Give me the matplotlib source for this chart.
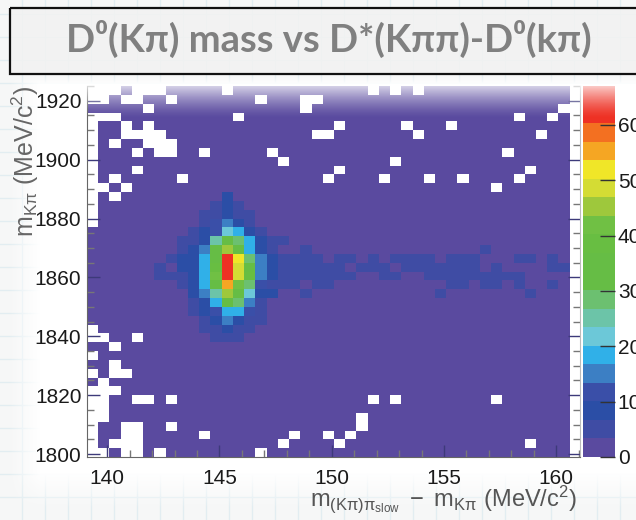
import numpy as np
import matplotlib
matplotlib.use('Agg')
from matplotlib import pyplot as plt
from matplotlib.colors import ListedColormap, BoundaryNorm
from matplotlib.patches import Rectangle
from matplotlib.ticker import MultipleLocator

plt.rcParams['font.family'] = ['Liberation Sans', 'DejaVu Sans']
plt.rcParams['mathtext.fontset'] = 'custom'
plt.rcParams['mathtext.rm'] = 'Liberation Sans'
plt.rcParams['mathtext.it'] = 'Liberation Sans'
plt.rcParams['mathtext.bf'] = 'Liberation Sans:bold'

W, H = 636, 520

title = 'D\u2070(K\u03c0) mass vs D*(K\u03c0\u03c0)-D\u2070(k\u03c0)'
x_ticks = [140, 145, 150, 155, 160]
y_ticks = [1800, 1820, 1840, 1860, 1880, 1900, 1920]
z_ticks = [0, 10, 20, 30, 40, 50, 60]

# histogram binning
x_start, x_bin, n_cols = 139.1, 0.5, 43
y_start, y_bin, n_rows = 1799, 3, 42
band_width = 3.35

band_colors = ['#5a4a9f', '#3f4ca4', '#2b4ea6', '#3a4fa8', '#3c7fc4',
               '#30b0e8', '#6cc8d8', '#6cc4a8', '#6cc070', '#66bd45',
               '#66bd45', '#68be42', '#70c044', '#9ec83c', '#d4dc34',
               '#f0e628', '#f5a623', '#f37021', '#ee3124', '#ee3124']

# row (from the bottom): columns with no entries
empty_cells = {
    41: [0, 1, 2, 4, 5, 6, 12, 25, 27, 29],
    40: [0, 1, 3, 4, 7, 15, 19, 20],
    39: [5, 19, 42],
    38: [0, 1, 2, 13, 38, 41],
    37: [0, 3, 5, 22, 28, 32],
    36: [0, 3, 4, 5, 6, 20, 21, 29, 40],
    35: [0, 2, 5, 6, 7],
    34: [0, 4, 6, 7, 10, 16, 37],
    33: [0, 17, 27],
    32: [0, 4, 22, 39],
    31: [0, 2, 8, 21, 26, 30, 33, 38],
    30: [0, 1, 3, 36],
    29: [0, 2],
    28: [0],
    27: [0],
    26: [0],
    14: [0],
    13: [0, 1, 4],
    12: [2],
    11: [0],
    10: [2],
    9: [0, 2, 3],
    8: [1],
    7: [0, 1, 2],
    6: [0, 1, 4, 5, 7, 25, 27, 36],
    5: [0, 1],
    4: [0, 1, 24],
    3: [0, 3, 4, 7, 24],
    2: [0, 3, 4, 10, 18, 21, 23],
    1: [0, 2, 3, 4, 17, 22, 39],
    0: [0, 1, 3, 4, 6, 15],
}

# row: (first column, colour bands of the signal peak)
peak_rows = {
    29: (12, [2]),
    28: (11, [1, 2, 1]),
    27: (10, [1, 1, 2, 1, 1]),
    26: (10, [1, 3, 4, 2, 1]),
    25: (9, [1, 2, 3, 6, 5, 2, 1]),
    24: (8, [1, 1, 2, 7, 10, 8, 5, 2, 1, 1]),
    23: (8, [1, 2, 4, 10, 13, 10, 5, 2, 1]),
    22: (7, [1, 2, 2, 5, 10, 18, 15, 8, 4, 2]),
    21: (6, [1, 0, 2, 2, 5, 11, 18, 14, 9, 4, 2]),
    20: (6, [1, 1, 1, 2, 5, 12, 18, 14, 11, 4, 2]),
    19: (8, [1, 2, 5, 9, 16, 12, 8, 3, 1]),
    18: (9, [2, 4, 7, 13, 10, 6, 2, 2]),
    17: (9, [1, 2, 5, 10, 8, 4, 1]),
    16: (9, [1, 2, 3, 5, 5, 3, 1]),
    15: (10, [1, 2, 4, 2, 1, 1]),
    14: (10, [1, 1, 2, 1, 1]),
    13: (11, [1, 1, 1]),
}

# row: columns of the horizontal band, all in the first band above the floor
tail_cells = {
    23: [19, 35],
    22: [17, 18, 19, 20, 22, 23, 25, 27, 28, 29, 30, 32, 33, 34, 38, 39, 41],
    21: [17, 18, 19, 20, 21, 22, 24, 25, 26, 28, 29, 30, 31, 32, 33, 34, 36, 41, 42],
    20: [17, 18, 19, 20, 21, 22, 23, 26, 27, 30, 31, 32, 33, 34, 35, 36, 37, 38],
    19: [17, 18, 20, 21, 32, 33, 35, 36, 38, 41],
    18: [19, 31, 39],
}


def px_rect(left, top, right, bottom):
    return [left / W, 1 - bottom / H, (right - left) / W, (bottom - top) / H]


def draw_background(fig):
    ax = fig.add_axes([0, 0, 1, 1], zorder=0)
    ax.set_xlim(0, W)
    ax.set_ylim(H, 0)
    ax.axis('off')
    ax.add_patch(Rectangle((0, 0), W, H, color='#f6f7f7', zorder=0))
    for xi in range(22, W, 23):
        ax.axvline(xi, color='#e2edf1', lw=1, zorder=1)
    for yi in range(14, H, 23):
        ax.axhline(yi, color='#e2edf1', lw=1, zorder=1)

    # soft edged white panel the plot sits on
    xx, yy = np.meshgrid(np.arange(W), np.arange(H))
    alpha = (np.clip((xx - 8) / 32, 0, 1)
             * np.clip((508 - yy) / 36, 0, 1)
             * np.clip((yy - 74) / 10, 0, 1))
    panel = np.ones((H, W, 4))
    panel[..., 3] = alpha
    ax.imshow(panel, extent=(0, W, H, 0), aspect='auto', zorder=2)
    ax.set_xlim(0, W)
    ax.set_ylim(H, 0)

    ax.add_patch(Rectangle((10, 8), 640, 66, facecolor='#f2f2f2', alpha=0.85,
                           edgecolor='none', zorder=3))
    ax.add_patch(Rectangle((10, 8), 640, 66, facecolor='none',
                           edgecolor='#111111', lw=1.6, zorder=4))
    ax.text(329, 39, title, color='#808080', fontsize=27.5, fontweight='bold',
            ha='center', va='center', zorder=5,
            family=['Lato', 'DejaVu Sans'])


def build_counts():
    counts = np.zeros((n_rows, n_cols))
    for row, cols in tail_cells.items():
        counts[row, cols] = 1
    for row, (first, bands) in peak_rows.items():
        counts[row, first:first + len(bands)] = bands
    counts = (counts + 0.5) * band_width
    for row, cols in empty_cells.items():
        counts[row, cols] = np.nan
    return counts


fig = plt.figure(figsize=(W / 100, H / 100), dpi=100)
draw_background(fig)

ax = fig.add_axes(px_rect(87, 86, 580, 457), zorder=1)
ax.set_facecolor('white')
cmap = ListedColormap(band_colors)
bounds = np.arange(len(band_colors) + 1) * band_width
norm = BoundaryNorm(bounds, cmap.N)
x_edges = x_start + x_bin * np.arange(n_cols + 1)
y_edges = y_start + y_bin * np.arange(n_rows + 1)
mesh = ax.pcolormesh(x_edges, y_edges, build_counts(), cmap=cmap, norm=norm)

ax.set_xlim(x_start, x_start + 493 / 22.45)
ax.set_ylim(y_start, y_start + y_bin * n_rows)
ax.set_xticks(x_ticks)
ax.set_yticks(y_ticks)
ax.xaxis.set_minor_locator(MultipleLocator(1))
ax.yaxis.set_minor_locator(MultipleLocator(5))
ax.tick_params(which='major', direction='in', length=9, width=1, color='#3d3a7a',
               labelsize=15, labelcolor='#1a1a1a', left=True, right=True, top=False)
ax.tick_params(which='minor', direction='in', length=5, width=1, color='#777777',
               left=True, right=True, top=False)
ax.tick_params(axis='x', pad=9)
ax.tick_params(axis='y', pad=4)
for side in ['left', 'bottom']:
    ax.spines[side].set_color('#666666')
ax.spines['right'].set_color('#bbbbbb')
ax.spines['top'].set_visible(False)

cax = fig.add_axes(px_rect(583, 86, 615, 457), zorder=1)
cbar = fig.colorbar(mesh, cax=cax, ticks=z_ticks)
cbar.outline.set_visible(False)
cbar.ax.minorticks_off()
cbar.ax.tick_params(direction='in', length=11, width=1, color='#333333',
                    labelsize=15, labelcolor='#1a1a1a', pad=2)
cbar.ax.set_yticks(z_ticks)

fig.text(25 / W, 1 - 161 / H, r'$\mathrm{m_{K\pi}\ (MeV/c^{2})}$', rotation=90,
         color='#666666', fontsize=18, ha='center', va='center', zorder=2)
fig.text(443 / W, 1 - 499 / H, r'$\mathrm{m_{(K\pi)\pi_{slow}}\ -\ m_{K\pi}\ (MeV/c^{2})}$',
         color='#555555', fontsize=17, ha='center', va='center', zorder=2)

# the slide fades the top of the picture out
fade_ax = fig.add_axes(px_rect(84, 84, 618, 120), zorder=3)
fade_ax.axis('off')
fade = np.ones((36, 1, 4))
fade[:, 0, 3] = np.clip((118 - np.arange(84, 120)) / 34, 0, 1) ** 1.4 * 0.8
fade_ax.imshow(fade, aspect='auto')

fig.savefig('out.png', dpi=100)
